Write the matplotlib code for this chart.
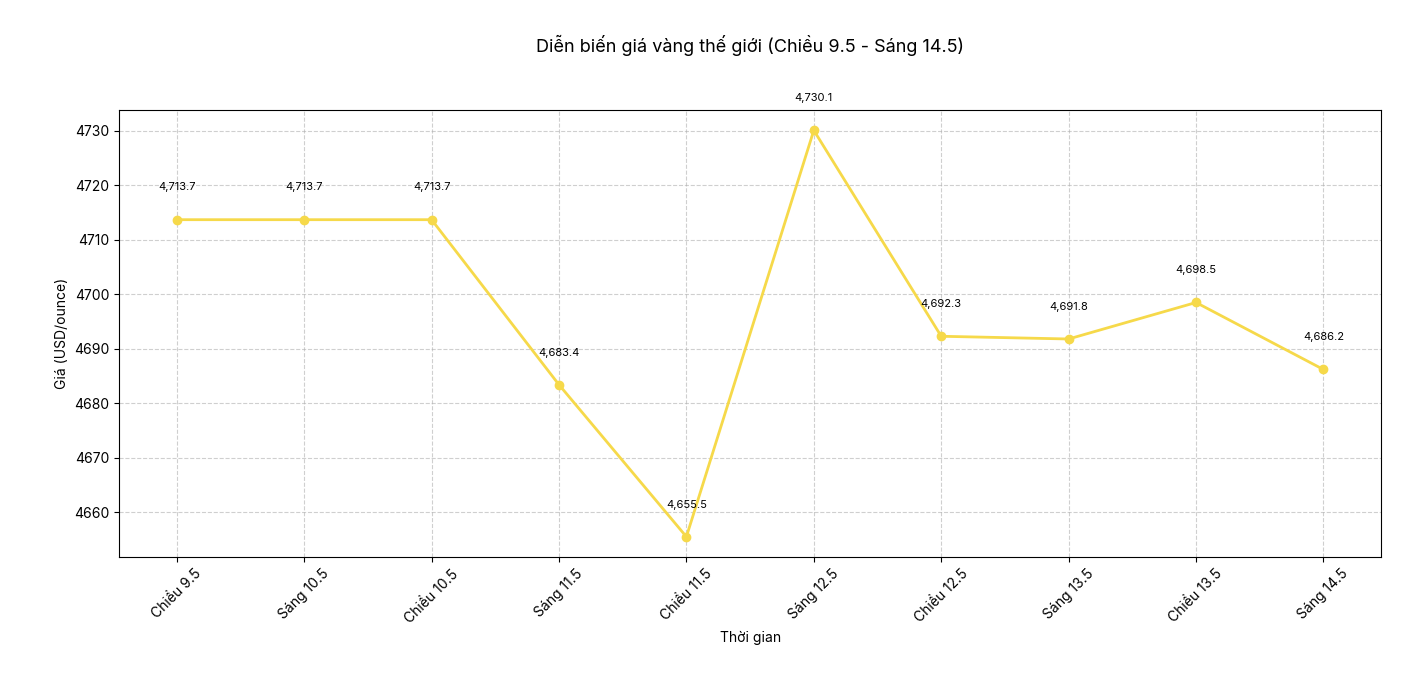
import matplotlib
matplotlib.use("Agg")
import matplotlib.pyplot as plt

plt.rcParams['font.family'] = ['Inter', 'DejaVu Sans']

# data
labels = ['Chiều 9.5', 'Sáng 10.5', 'Chiều 10.5', 'Sáng 11.5', 'Chiều 11.5',
          'Sáng 12.5', 'Chiều 12.5', 'Sáng 13.5', 'Chiều 13.5', 'Sáng 14.5']
prices = [4713.7, 4713.7, 4713.7, 4683.4, 4655.5, 4730.1, 4692.3, 4691.8, 4698.5, 4686.2]

fig, ax = plt.subplots(figsize=(14.22, 6.92), dpi=100)
fig.subplots_adjust(left=0.084, right=0.971, top=0.841, bottom=0.195)

x = range(len(labels))
ax.plot(x, prices, color='#F6D94A', linewidth=2, marker='o', markersize=6)

# value labels
for i, v in enumerate(prices):
    ax.text(i, v + 5, f'{v:,.1f}', ha='center', va='bottom', fontsize=8)

ax.set_xticks(list(x))
ax.set_xticklabels(labels, rotation=45)
ax.tick_params(labelsize=10)
ax.set_title('Diễn biến giá vàng thế giới (Chiều 9.5 - Sáng 14.5)', fontsize=13, pad=42)
ax.set_xlabel('Thời gian', fontsize=10)
ax.set_ylabel('Giá (USD/ounce)', fontsize=10)
ax.grid(True, linestyle='--', alpha=0.6)

plt.savefig('out.png')
